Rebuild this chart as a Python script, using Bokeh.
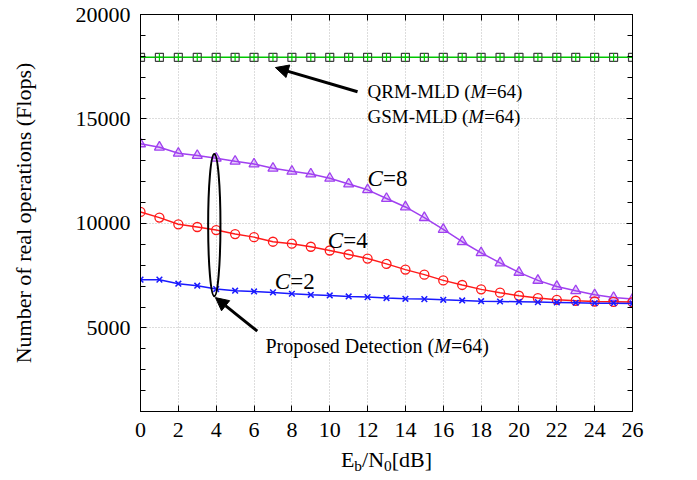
from bokeh.plotting import figure
from bokeh.layouts import column
from bokeh.models import (Range1d, FixedTicker, LinearAxis, Label, Arrow,
                          NormalHead, CustomJSTickFormatter)
from bokeh.embed import file_html
from bokeh.resources import INLINE

# ---------------- data ----------------
snr = [0, 1, 2, 3, 4, 5, 6, 7, 8, 9, 10, 11, 12, 13, 14, 15, 16, 17, 18, 19,
       20, 21, 22, 23, 24, 25, 26]
mld = [17950, 17950, 17950, 17950, 17950, 17950, 17950, 17950, 17950, 17950,
       17950, 17950, 17950, 17950, 17950, 17950, 17950, 17950, 17950, 17950,
       17950, 17950, 17950, 17950, 17950, 17950, 17950]
c8 = [13810, 13650, 13360, 13250, 13120, 12975, 12845, 12640, 12495, 12365,
      12160, 11885, 11610, 11195, 10790, 10280, 9715, 9125, 8595, 8110,
      7660, 7275, 6985, 6780, 6585, 6455, 6380]
c4 = [10550, 10280, 9960, 9830, 9685, 9490, 9345, 9125, 9030, 8885,
      8705, 8515, 8320, 8065, 7790, 7550, 7275, 7055, 6845, 6685,
      6540, 6430, 6345, 6300, 6265, 6250, 6235]
c2 = [7310, 7310, 7115, 7020, 6860, 6780, 6745, 6700, 6635, 6585,
      6555, 6505, 6475, 6430, 6395, 6380, 6345, 6315, 6280, 6265,
      6250, 6235, 6220, 6205, 6185, 6185, 6170]

x_ticks = [0, 2, 4, 6, 8, 10, 12, 14, 16, 18, 20, 22, 24, 26]
y_ticks = [5000, 10000, 15000, 20000]
y_minor = [1000, 2000, 3000, 4000, 5000, 6000, 7000, 8000, 9000, 10000, 11000,
           12000, 13000, 14000, 15000, 16000, 17000, 18000, 19000, 20000]

FONT = "Liberation Serif"
LEFT, RIGHT = 140, 49

xr = Range1d(0, 26)
p = figure(width=681, height=447, x_range=xr, y_range=Range1d(1000, 20000),
           output_backend="svg", toolbar_location=None,
           min_border_left=LEFT, min_border_right=RIGHT, min_border_top=14, min_border_bottom=36)
p.background_fill_color = "white"
p.border_fill_color = "white"
p.outline_line_color = "black"
p.outline_line_width = 1

xt = FixedTicker(ticks=x_ticks)
yt = FixedTicker(ticks=y_ticks, minor_ticks=y_minor)

def style_axis(ax, labels=True):
    ax.axis_line_color = "black"
    ax.major_tick_in = 6
    ax.major_tick_out = 0
    ax.minor_tick_in = 5
    ax.minor_tick_out = 0
    ax.major_tick_line_color = "black"
    ax.minor_tick_line_color = "black"
    ax.major_label_text_font = FONT
    ax.major_label_text_font_size = "22px"
    ax.major_label_text_color = "black"
    if not labels:
        ax.formatter = CustomJSTickFormatter(code="return ''")
        ax.major_label_standoff = 0

p.xaxis.ticker = xt
p.yaxis.ticker = yt
style_axis(p.xaxis[0])
style_axis(p.yaxis[0])
p.xaxis.minor_tick_line_color = None
p.xaxis.major_label_standoff = 11
p.yaxis.major_label_standoff = 10
p.yaxis.axis_label = "Number of real operations (Flops)"
p.yaxis.axis_label_text_font = FONT
p.yaxis.axis_label_text_font_size = "22px"
p.yaxis.axis_label_text_font_style = "normal"
p.yaxis.axis_label_text_color = "black"
p.yaxis.axis_label_standoff = 37

top = LinearAxis(ticker=xt)
style_axis(top, labels=False)
top.minor_tick_line_color = None
p.add_layout(top, "above")
right = LinearAxis(ticker=yt)
style_axis(right, labels=False)
p.add_layout(right, "right")

p.xgrid.ticker = xt
p.ygrid.ticker = yt
for g in (p.xgrid[0], p.ygrid[0]):
    g.grid_line_color = "#bbbbbb"
    g.grid_line_dash = "1 2"
    g.grid_line_width = 1

# ---------------- series ----------------
GREEN = "#00c800"
PURPLE = "#a040f0"
RED = "#ff1a1a"
BLUE = "#1a1aff"

p.line(snr, mld, line_color=GREEN, line_width=1.5)
p.scatter(snr, mld, marker="square", size=8, fill_color=None, line_color="#404040", line_width=1.2)
p.scatter(snr, mld, marker="cross", size=8, line_color=GREEN, line_width=1.2)

p.line(snr, c8, line_color=PURPLE, line_width=1.5)
p.scatter(snr, c8, marker="triangle", size=10, fill_color=PURPLE, fill_alpha=0.25,
          line_color=PURPLE, line_width=1.3)

p.line(snr, c4, line_color=RED, line_width=1.5)
p.scatter(snr, c4, marker="circle", size=9, fill_color=None, line_color=RED, line_width=1.3)

p.line(snr, c2, line_color=BLUE, line_width=1.5)
p.scatter(snr, c2, marker="x", size=8, line_color=BLUE, line_width=1.5)

# ---------------- annotations ----------------
REG = {'Q': 722, 'R': 667, 'M': 889, '-': 333, 'L': 611, 'D': 722, ' ': 250, '(': 333,
       ')': 333, 'G': 722, 'S': 556, 'P': 556, 'r': 333, 'o': 500, 'p': 500, 's': 389,
       'e': 444, 'd': 500, 't': 278, 'c': 444, 'i': 278, 'n': 500, '=': 564, 'E': 611,
       'b': 500, '/': 278, 'N': 722, '[': 333, ']': 333, 'B': 667}
ITA = {'M': 833, 'C': 667}

def tw(s, italic):
    tab = ITA if italic else REG
    return sum(tab.get(ch, REG.get(ch, 500)) for ch in s) / 1000.0

def rich(fig, x, y, segs, size, center=False):
    # segs: (text, italic, scale, dy)
    total = sum(tw(t, it) * size * sc for t, it, sc, dy in segs)
    off = -total / 2 if center else 0
    for t, it, sc, dy in segs:
        fig.add_layout(Label(x=x, y=y, x_offset=off, y_offset=dy, text=t,
                             text_font=FONT, text_font_size=f"{size * sc:.1f}px",
                             text_font_style="italic" if it else "normal",
                             text_color="black", text_baseline="middle", text_align="left"))
        off += tw(t, it) * size * sc

rich(p, 12.0, 16300, [("QRM-MLD (", False, 1, 0), ("M", True, 1, 0), ("=64)", False, 1, 0)], 19)
rich(p, 12.0, 15100, [("GSM-MLD (", False, 1, 0), ("M", True, 1, 0), ("=64)", False, 1, 0)], 19)
rich(p, 6.6, 4130, [("Proposed Detection (", False, 1, 0), ("M", True, 1, 0), ("=64)", False, 1, 0)], 20)
rich(p, 12.0, 12130, [("C", True, 1, 0), ("=8", False, 1, 0)], 23)
rich(p, 9.9, 9170, [("C", True, 1, 0), ("=4", False, 1, 0)], 23)
rich(p, 7.1, 7200, [("C", True, 1, 0), ("=2", False, 1, 0)], 23)

# ellipse grouping the proposed curves
ell_x = [3.9]
ell_y = [9920]
p.ellipse(x=ell_x, y=ell_y, width=0.65, height=6800, fill_color=None,
          line_color="black", line_width=2)

p.add_layout(Arrow(end=NormalHead(size=13, fill_color="black", line_color="black"),
                   x_start=11.47, y_start=16300, x_end=7.13, y_end=17460,
                   line_width=3, line_color="black"))
p.add_layout(Arrow(end=NormalHead(size=13, fill_color="black", line_color="black"),
                   x_start=6.17, y_start=4850, x_end=3.96, y_end=6450,
                   line_width=3, line_color="black"))

# ---------------- x-axis title strip (with subscripts) ----------------
q = figure(width=681, height=29, x_range=xr, y_range=Range1d(0, 29),
           output_backend="svg", toolbar_location=None,
           x_axis_location=None, y_axis_location=None,
           min_border_left=LEFT, min_border_right=RIGHT, min_border_top=0, min_border_bottom=0)
q.outline_line_color = None
q.xgrid.visible = False
q.ygrid.visible = False
q.background_fill_color = "white"
q.border_fill_color = "white"
rich(q, 13.0, 17, [("E", False, 1, 0), ("b", False, 0.7, -6), ("/N", False, 1, 0),
                   ("0", False, 0.7, -6), ("[dB]", False, 1, 0)], 22, center=True)

layout = column(p, q, spacing=0)
open("out.html", "w").write(file_html(layout, INLINE))
